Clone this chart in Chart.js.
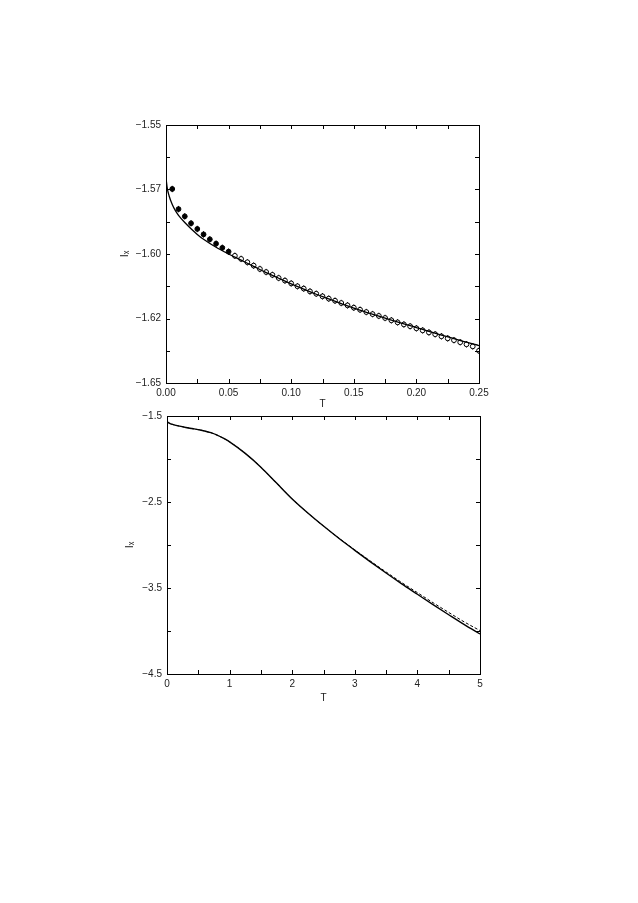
<!DOCTYPE html>
<html>
<head>
<meta charset="utf-8">
<title>Ix vs T</title>
<script src="https://cdn.jsdelivr.net/npm/chart.js@4.4.1/dist/chart.umd.min.js"></script>
<style>
    html, body { margin: 0; padding: 0; background: #fff; }
    body { width: 638px; height: 903px; position: relative; overflow: hidden; }
    .painel { position: absolute; left: 0; width: 638px; }
    #painelTopo { top: 110px; height: 300px; }
    #painelBaixo { top: 400px; height: 304px; }
</style>
</head>
<body>
<div class="painel" id="painelTopo"><canvas id="myChartCanvas1" width="638" height="300"></canvas></div>
<div class="painel" id="painelBaixo"><canvas id="myChartCanvas2" width="638" height="304"></canvas></div>
<script>
// painel de cima: T de 0 a 0.25
const tempLinha1 = [0, 0.001, 0.0025, 0.005, 0.0075, 0.01, 0.015, 0.02, 0.025, 0.03, 0.04, 0.05, 0.06, 0.07, 0.08, 0.09, 0.10,
    0.11, 0.12, 0.13, 0.14, 0.15, 0.16, 0.17, 0.18, 0.19, 0.20, 0.21, 0.22, 0.23, 0.24, 0.25];
const ixLinha1 = [-1.5705, -1.5745, -1.5775, -1.5808, -1.5832, -1.5850, -1.5878, -1.5902, -1.5924, -1.5943, -1.5974, -1.6000,
    -1.6024, -1.6048, -1.6072, -1.6094, -1.6116, -1.6136, -1.6156, -1.6174, -1.6192, -1.6210, -1.6226, -1.6241, -1.6256,
    -1.6271, -1.6285, -1.6300, -1.6314, -1.6328, -1.6342, -1.6355];

const tempPontos = [0.005, 0.010, 0.015, 0.020, 0.025, 0.030, 0.035, 0.040, 0.045, 0.050,
    0.055, 0.060, 0.065, 0.070, 0.075, 0.080, 0.085, 0.090, 0.095, 0.100,
    0.105, 0.110, 0.115, 0.120, 0.125, 0.130, 0.135, 0.140, 0.145, 0.150,
    0.155, 0.160, 0.165, 0.170, 0.175, 0.180, 0.185, 0.190, 0.195, 0.200,
    0.205, 0.210, 0.215, 0.220, 0.225, 0.230, 0.235, 0.240, 0.245, 0.250];
const ixPontos = [-1.5748, -1.5826, -1.5854, -1.5881, -1.5903, -1.5924, -1.5943, -1.5960, -1.5976, -1.5991,
    -1.6007, -1.6019, -1.6032, -1.6045, -1.6058, -1.6070, -1.6081, -1.6093, -1.6103, -1.6114,
    -1.6125, -1.6134, -1.6145, -1.6154, -1.6164, -1.6173, -1.6181, -1.6190, -1.6199, -1.6208,
    -1.6216, -1.6225, -1.6233, -1.6240, -1.6248, -1.6257, -1.6265, -1.6273, -1.6280, -1.6288,
    -1.6296, -1.6304, -1.6311, -1.6319, -1.6327, -1.6334, -1.6342, -1.6350, -1.6358, -1.6375];

const xLabels1 = ['0.00', '0.05', '0.10', '0.15', '0.20', '0.25'];
const yLabels1 = ['\u22121.65', '\u22121.62', '\u22121.60', '\u22121.57', '\u22121.55'];

// painel de baixo: T de 0 a 5
const tempLinha2 = [0, 0.05, 0.1, 0.2, 0.3, 0.4, 0.5, 0.6, 0.7, 0.8, 0.9, 1.0, 1.25, 1.5, 1.75, 2.0, 2.25, 2.5,
    2.75, 3.0, 3.25, 3.5, 3.75, 4.0, 4.25, 4.5, 4.75, 5.0];
const ixCheia = [-1.566, -1.588, -1.600, -1.618, -1.633, -1.646, -1.659, -1.674, -1.694, -1.722, -1.758, -1.800,
    -1.935, -2.095, -2.280, -2.465, -2.628, -2.780, -2.925, -3.062, -3.196, -3.326, -3.452, -3.573, -3.694,
    -3.811, -3.926, -4.035];
const ixTracejada = [-1.566, -1.588, -1.600, -1.618, -1.633, -1.646, -1.659, -1.674, -1.694, -1.722, -1.758, -1.800,
    -1.935, -2.095, -2.280, -2.465, -2.628, -2.780, -2.922, -3.056, -3.187, -3.314, -3.437, -3.554, -3.671,
    -3.784, -3.895, -3.995];

const xLabels2 = ['0', '1', '2', '3', '4', '5'];
const yLabels2 = ['\u22124.5', '\u22123.5', '\u22122.5', '\u22121.5'];

const fonte = { family: "'Liberation Sans', Arial, 'DejaVu Sans', sans-serif", size: 10 };
const corTexto = '#222';

function pares(xs, ys) {
    const out = [];
    for (let i = 0; i < xs.length; i++) {
        out.push({ x: xs[i], y: ys[i] });
    }
    return out;
}

// moldura e tiques para dentro nos quatro lados, estilo gnuplot
const molduraPlugin = {
    id: 'moldura',
    afterDraw(chart) {
        const ctx = chart.ctx;
        const a = chart.chartArea;
        const tl = 4;
        ctx.save();
        ctx.strokeStyle = '#000';
        ctx.lineWidth = 1;
        ctx.beginPath();
        chart.scales.x.ticks.forEach(t => {
            const px = Math.round(chart.scales.x.getPixelForValue(t.value)) + 0.5;
            ctx.moveTo(px, a.bottom);
            ctx.lineTo(px, a.bottom - tl);
            ctx.moveTo(px, a.top);
            ctx.lineTo(px, a.top + tl);
        });
        chart.scales.y.ticks.forEach(t => {
            const py = Math.round(chart.scales.y.getPixelForValue(t.value)) + 0.5;
            ctx.moveTo(a.left, py);
            ctx.lineTo(a.left + tl, py);
            ctx.moveTo(a.right, py);
            ctx.lineTo(a.right - tl, py);
        });
        ctx.stroke();
        ctx.strokeRect(Math.round(a.left) + 0.5, Math.round(a.top) + 0.5,
            Math.round(a.right - a.left), Math.round(a.bottom - a.top));
        ctx.restore();
    }
};

function montarGrafico(idGrafico, datasets, eixos) {
    const config = {
        type: 'scatter',
        data: { datasets: datasets },
        options: {
            responsive: false,
            animation: false,
            layout: { padding: eixos.padding },
            plugins: { legend: { display: false }, tooltip: { enabled: false } },
            scales: {
                x: {
                    type: 'linear',
                    min: eixos.xMin,
                    max: eixos.xMax,
                    afterFit: (scale) => { scale.height = eixos.xAltura; },
                    grid: { display: false, drawTicks: false },
                    border: { display: false },
                    ticks: {
                        stepSize: eixos.xPasso,
                        autoSkip: false,
                        maxRotation: 0,
                        padding: 4,
                        color: corTexto,
                        font: fonte,
                        callback: (v, i) => (i % 2 === 0 ? eixos.xLabels[i / 2] : '')
                    },
                    title: { display: true, text: 'T', color: corTexto, font: fonte, padding: 0 }
                },
                y: {
                    type: 'linear',
                    min: eixos.yMin,
                    max: eixos.yMax,
                    afterFit: (scale) => { scale.width = eixos.yLargura; },
                    grid: { display: false, drawTicks: false },
                    border: { display: false },
                    ticks: {
                        stepSize: eixos.yPasso,
                        autoSkip: false,
                        padding: 5,
                        color: corTexto,
                        font: fonte,
                        callback: (v, i) => (i % 2 === 0 ? eixos.yLabels[i / 2] : '')
                    },
                    title: {
                        display: true, text: 'I\u2093', color: corTexto,
                        font: { family: fonte.family, size: 11 },
                        padding: { top: eixos.tituloY, bottom: 0 }
                    }
                }
            }
        },
        plugins: [molduraPlugin]
    };

    new Chart(document.getElementById(`myChartCanvas${idGrafico}`), config);
}

montarGrafico(1, [
    {
        data: pares(tempLinha1, ixLinha1),
        showLine: true,
        borderColor: '#000',
        borderWidth: 1.3,
        pointRadius: 0,
        cubicInterpolationMode: 'monotone'
    },
    {
        data: pares(tempPontos, ixPontos),
        pointStyle: 'circle',
        pointRadius: 2.4,
        borderWidth: 1,
        borderColor: '#000',
        backgroundColor: (ctx) => (ctx.dataIndex < 10 ? '#000' : '#fff')
    },
    {
        data: pares(tempPontos, ixPontos),
        pointStyle: 'line',
        rotation: 90,
        pointRadius: 3.2,
        borderWidth: 1,
        borderColor: '#000'
    }
], {
    padding: { top: 15, right: 159, bottom: 0, left: 0 },
    xMin: 0, xMax: 0.25, xPasso: 0.025, xLabels: xLabels1, xAltura: 27,
    yMin: -1.65, yMax: -1.55, yPasso: 0.0125, yLabels: yLabels1, yLargura: 166,
    tituloY: 118
});

montarGrafico(2, [
    {
        data: pares(tempLinha2, ixTracejada),
        showLine: true,
        borderColor: '#000',
        borderWidth: 1,
        borderDash: [3, 2],
        pointRadius: 0,
        cubicInterpolationMode: 'monotone'
    },
    {
        data: pares(tempLinha2, ixCheia),
        showLine: true,
        borderColor: '#000',
        borderWidth: 1.4,
        pointRadius: 0,
        cubicInterpolationMode: 'monotone'
    }
], {
    padding: { top: 16, right: 158, bottom: 0, left: 0 },
    xMin: 0, xMax: 5, xPasso: 0.5, xLabels: xLabels2, xAltura: 30,
    yMin: -4.5, yMax: -1.5, yPasso: 0.5, yLabels: yLabels2, yLargura: 167,
    tituloY: 123
});
</script>
</body>
</html>
